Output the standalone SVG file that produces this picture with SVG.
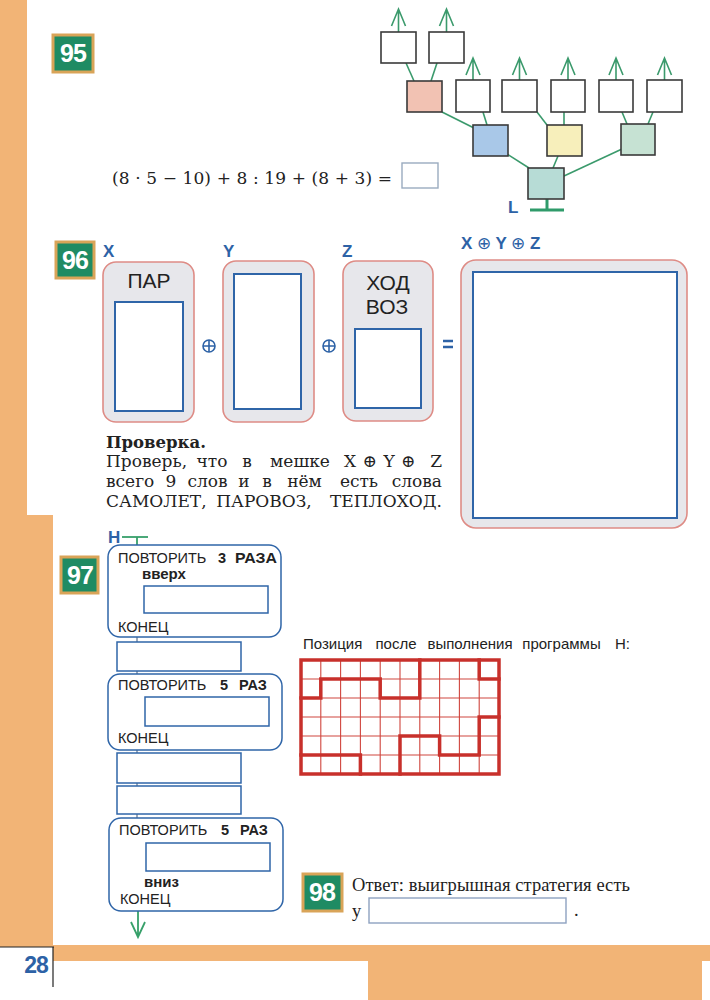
<svg xmlns="http://www.w3.org/2000/svg" width="710" height="1000" viewBox="0 0 710 1000">
<style>
.bg{fill:#f2b476}
.badge rect{fill:#1f8b63;stroke:#d9a458;stroke-width:3}
.badge text{fill:#fff;font-family:"Liberation Sans",Arial,sans-serif;font-weight:bold;font-size:25px;text-anchor:middle;letter-spacing:-1px}
.tb{fill:#fff;stroke:#3a3a3a;stroke-width:1.6}
.tl{stroke:#3b9a6c;stroke-width:1.6;fill:none}
.serif{font-family:"DejaVu Serif","Liberation Serif",serif;fill:#222}
.lserif{font-family:"Liberation Serif","Times New Roman",serif;fill:#222}
.sans{font-family:"Liberation Sans",Arial,sans-serif;fill:#222}
.blue{fill:#2d62a6;font-family:"Liberation Sans",Arial,sans-serif;font-weight:bold}
.bag{fill:#e7e7eb;stroke:#de8c86;stroke-width:1.6}
.inner{fill:#fff;stroke:#2f65a8;stroke-width:2}
.blk{fill:#fff;stroke:#2f65a8;stroke-width:1.5}
.con{stroke:#7d8ca3;stroke-width:1.5;fill:none}
.oplus{fill:none;stroke:#2d62a6;stroke-width:1.6}
.thin{stroke:#d0463e;stroke-width:1.1;fill:none}
.thick{stroke:#c8302b;stroke-width:3.5;fill:none;stroke-linecap:square}
.m{text-anchor:middle}
.e{text-anchor:end}
</style>

<g id="page">
  <rect class="bg" x="0" y="0" width="27" height="520"/>
  <rect class="bg" x="0" y="515" width="53" height="432"/>
  <rect class="bg" x="53" y="945" width="657" height="16"/>
  <rect class="bg" x="368" y="945" width="334" height="55"/>
  <line x1="0" y1="947" x2="54" y2="947" stroke="#222" stroke-width="1.2"/>
  <line x1="53" y1="947" x2="53" y2="987" stroke="#222" stroke-width="1.2"/>
  <text x="36" y="973" class="blue" font-size="23" text-anchor="middle" letter-spacing="-1">28</text>
</g>

<!-- 95 -->
<g id="badge95" class="badge"><rect x="53" y="35" width="40" height="37"/><text x="73" y="62">95</text></g>
<g id="equation">
  <text x="112" y="184" class="serif" font-size="17" textLength="280" lengthAdjust="spacing">(8 · 5 − 10) + 8 : 19 + (8 + 3) =</text>
  <rect x="402" y="163" width="36" height="25" fill="#fff" stroke="#9aabbf" stroke-width="1.4"/>
</g>

<g id="connectors">
  <g class="tl">
    <path d="M398.5,32V9M391.5,26L398.5,9L405.5,26"/>
    <path d="M446.5,32V9M439.5,26L446.5,9L453.5,26"/>
    <path d="M473,80V58M466,75L473,58L480,75"/>
    <path d="M519.5,80V58M512.5,75L519.5,58L526.5,75"/>
    <path d="M568,80V58M561,75L568,58L575,75"/>
    <path d="M616,80V58M609,75L616,58L623,75"/>
    <path d="M664.5,80V58M657.5,75L664.5,58L671.5,75"/>
    <line x1="406" y1="63" x2="414" y2="81"/>
    <line x1="437" y1="63" x2="431" y2="81"/>
    <line x1="442" y1="112" x2="474" y2="128"/>
    <line x1="483" y1="112" x2="487" y2="125"/>
    <line x1="537" y1="112" x2="547" y2="125"/>
    <line x1="564" y1="112" x2="564" y2="125"/>
    <line x1="622" y1="112" x2="627" y2="124"/>
    <line x1="653" y1="112" x2="648" y2="124"/>
    <line x1="507" y1="154" x2="529" y2="168"/>
    <line x1="558" y1="156" x2="553" y2="168"/>
    <line x1="622" y1="149" x2="564" y2="176"/>
  </g>
  <g stroke="#2f9b6a" stroke-width="3" fill="none">
    <line x1="547" y1="199" x2="547" y2="210"/>
    <line x1="530" y1="210" x2="564" y2="210"/>
  </g>
  <g stroke="#37a06a" stroke-width="1.8" fill="none">
    <line x1="122" y1="537" x2="148" y2="537"/>
    <line x1="137" y1="537" x2="137" y2="545"/>
    <path d="M138,911V937M131,922L138,937L145,922"/>
  </g>
  <g class="con">
    <line x1="137" y1="637" x2="137" y2="642"/>
    <line x1="137" y1="671" x2="137" y2="674"/>
    <line x1="137" y1="750" x2="137" y2="753"/>
    <line x1="137" y1="783" x2="137" y2="786"/>
    <line x1="137" y1="814" x2="137" y2="818"/>
  </g>
</g>

<g id="tree">
  <rect id="t1" class="tb" x="381" y="32" width="35" height="31"/>
  <rect id="t2" class="tb" x="429" y="32" width="35" height="31"/>
  <rect id="t3" class="tb" x="407" y="81" width="35" height="31" style="fill:#f2c2b3"/>
  <rect id="t4" class="tb" x="456" y="80" width="34" height="32"/>
  <rect id="t5" class="tb" x="502" y="80" width="35" height="32"/>
  <rect id="t6" class="tb" x="551" y="80" width="34" height="32"/>
  <rect id="t7" class="tb" x="599" y="80" width="34" height="32"/>
  <rect id="t8" class="tb" x="647" y="80" width="35" height="32"/>
  <rect id="t9" class="tb" x="473" y="125" width="35" height="31" style="fill:#a9c8e8"/>
  <rect id="t10" class="tb" x="547" y="125" width="35" height="31" style="fill:#f7efbb"/>
  <rect id="t11" class="tb" x="621" y="124" width="34" height="31" style="fill:#c6e2d3"/>
  <rect id="t12" class="tb" x="528" y="168" width="36" height="31" style="fill:#b7dcd6"/>
  <text x="508" y="213" class="blue" font-size="17">L</text>
</g>

<!-- 96 -->
<g id="badge96" class="badge"><rect x="56" y="242" width="38" height="36"/><text x="75" y="269">96</text></g>
<g id="bagX">
  <text x="103" y="257" class="blue" font-size="17">X</text>
  <rect class="bag" x="103" y="262" width="91" height="160" rx="13"/>
  <text x="149" y="288" class="sans" font-size="21" text-anchor="middle">ПАР</text>
  <rect class="inner" x="115" y="302" width="68" height="109"/>
</g>
<g id="plus1"><circle class="oplus" cx="209" cy="346" r="6"/><path class="oplus" d="M203,346H215M209,340V352"/></g>
<g id="bagY">
  <text x="223" y="257" class="blue" font-size="17">Y</text>
  <rect class="bag" x="223" y="261" width="91" height="161" rx="13"/>
  <rect class="inner" x="234" y="274" width="67" height="135"/>
</g>
<g id="plus2"><circle class="oplus" cx="329" cy="346" r="6"/><path class="oplus" d="M323,346H335M329,340V352"/></g>
<g id="bagZ">
  <text x="342" y="257" class="blue" font-size="17">Z</text>
  <rect class="bag" x="343" y="261" width="90" height="160" rx="13"/>
  <text x="388" y="290" class="sans" font-size="21" text-anchor="middle">ХОД</text>
  <text x="387" y="314" class="sans" font-size="21" text-anchor="middle">ВОЗ</text>
  <rect class="inner" x="355" y="329" width="66" height="79"/>
</g>
<g id="equals"><path d="M443,341H453M443,347H453" stroke="#2d62a6" stroke-width="2.4"/></g>
<g id="bagXYZ">
  <text x="461" y="249" class="blue" font-size="17">X <tspan font-weight="normal">⊕</tspan> Y <tspan font-weight="normal">⊕</tspan> Z</text>
  <rect class="bag" x="461" y="260" width="226" height="268" rx="15"/>
  <rect class="inner" x="473" y="272" width="204" height="246"/>
</g>
<g id="check" class="serif" font-size="17">
  <text x="106" y="448" font-weight="bold" font-size="16.5">Проверка.</text>
  <text x="106" y="467">Проверь,</text><text class="m" x="212" y="467">что</text><text class="m" x="247" y="467">в</text><text class="m" x="300" y="467">мешке</text><text class="m" x="350" y="467">X</text><text class="m" x="369.5" y="467">⊕</text><text class="m" x="389" y="467">Y</text><text class="m" x="408" y="467">⊕</text><text class="e" x="442" y="467">Z</text>
  <text x="106" y="487">всего</text><text class="m" x="171" y="487">9</text><text class="m" x="207.5" y="487">слов</text><text class="m" x="244" y="487">и</text><text class="m" x="267" y="487">в</text><text class="m" x="304.5" y="487">нём</text><text class="m" x="359" y="487">есть</text><text class="e" x="442" y="487">слова</text>
  <text x="106" y="507">САМОЛЕТ,</text><text class="m" x="264" y="507">ПАРОВОЗ,</text><text class="e" x="442" y="507">ТЕПЛОХОД.</text>
</g>

<!-- 97 -->
<g id="badge97" class="badge"><rect x="61" y="557" width="37" height="36"/><text x="80" y="584">97</text></g>
<text x="108" y="543" class="blue" font-size="17">Н</text>
<g id="block1">
  <rect class="blk" x="108" y="545" width="173" height="92" rx="12"/>
  <text x="118" y="563" class="sans" font-size="14.5">ПОВТОРИТЬ</text>
  <text x="218" y="563" class="sans" font-size="14.5" font-weight="bold">3</text>
  <text x="235" y="563" class="sans" font-size="14.5" font-weight="bold" textLength="42" lengthAdjust="spacingAndGlyphs">РАЗА</text>
  <text x="142" y="579" class="sans" font-size="15" font-weight="bold">вверх</text>
  <rect class="blk" x="144" y="586" width="124" height="27"/>
  <text x="118" y="632" class="sans" font-size="14.5">КОНЕЦ</text>
</g>
<g id="cmd1"><rect class="blk" x="117" y="642" width="124" height="29"/></g>
<g id="block2">
  <rect class="blk" x="108" y="674" width="174" height="76" rx="12"/>
  <text x="118" y="690" class="sans" font-size="14.5">ПОВТОРИТЬ</text>
  <text x="220" y="690" class="sans" font-size="14.5" font-weight="bold">5</text>
  <text x="239" y="690" class="sans" font-size="14.5" font-weight="bold">РАЗ</text>
  <rect class="blk" x="145" y="697" width="124" height="29"/>
  <text x="118" y="743" class="sans" font-size="14.5">КОНЕЦ</text>
</g>
<g id="cmd2"><rect class="blk" x="117" y="753" width="124" height="30"/></g>
<g id="cmd3"><rect class="blk" x="117" y="786" width="124" height="28"/></g>
<g id="block3">
  <rect class="blk" x="109" y="818" width="174" height="93" rx="12"/>
  <text x="119" y="835" class="sans" font-size="14.5">ПОВТОРИТЬ</text>
  <text x="221" y="835" class="sans" font-size="14.5" font-weight="bold">5</text>
  <text x="240" y="835" class="sans" font-size="14.5" font-weight="bold">РАЗ</text>
  <rect class="blk" x="146" y="843" width="124" height="28"/>
  <text x="144" y="887" class="sans" font-size="15" font-weight="bold">вниз</text>
  <text x="120" y="904" class="sans" font-size="14.5">КОНЕЦ</text>
</g>

<g id="grid">
  <g class="sans" font-size="15"><text x="303" y="649">Позиция</text><text class="m" x="396" y="649">после</text><text class="m" x="470" y="649">выполнения</text><text class="m" x="561.5" y="649">программы</text><text class="e" x="630" y="649">Н:</text></g>
  <path class="thin" d="M320.8,660V774M340.6,660V774M360.4,660V774M380.2,660V774M400,660V774M419.8,660V774M439.6,660V774M459.4,660V774M479.2,660V774M301,679H499M301,698H499M301,717H499M301,736H499M301,755H499"/>
  <rect class="thick" x="301" y="660" width="198" height="114"/>
  <path class="thick" d="M301,698H320.8V679H380.2V698H419.8V660"/>
  <path class="thick" d="M479.2,660V679H499"/>
  <path class="thick" d="M499,717H479.2V755H439.6V736H400V774"/>
  <path class="thick" d="M301,755H360.4V774"/>
</g>

<!-- 98 -->
<g id="badge98" class="badge"><rect x="303" y="874" width="39" height="37"/><text x="322" y="901">98</text></g>
<g id="answer">
  <text x="352" y="891" class="lserif" font-size="18.5" textLength="278" lengthAdjust="spacing">Ответ: выигрышная стратегия есть</text>
  <text x="352" y="917" class="lserif" font-size="18.5">у</text>
  <rect x="369" y="898" width="197" height="25" fill="#fff" stroke="#8ea2c0" stroke-width="1.4"/>
  <text x="574" y="916" class="lserif" font-size="18.5">.</text>
</g>
</svg>
